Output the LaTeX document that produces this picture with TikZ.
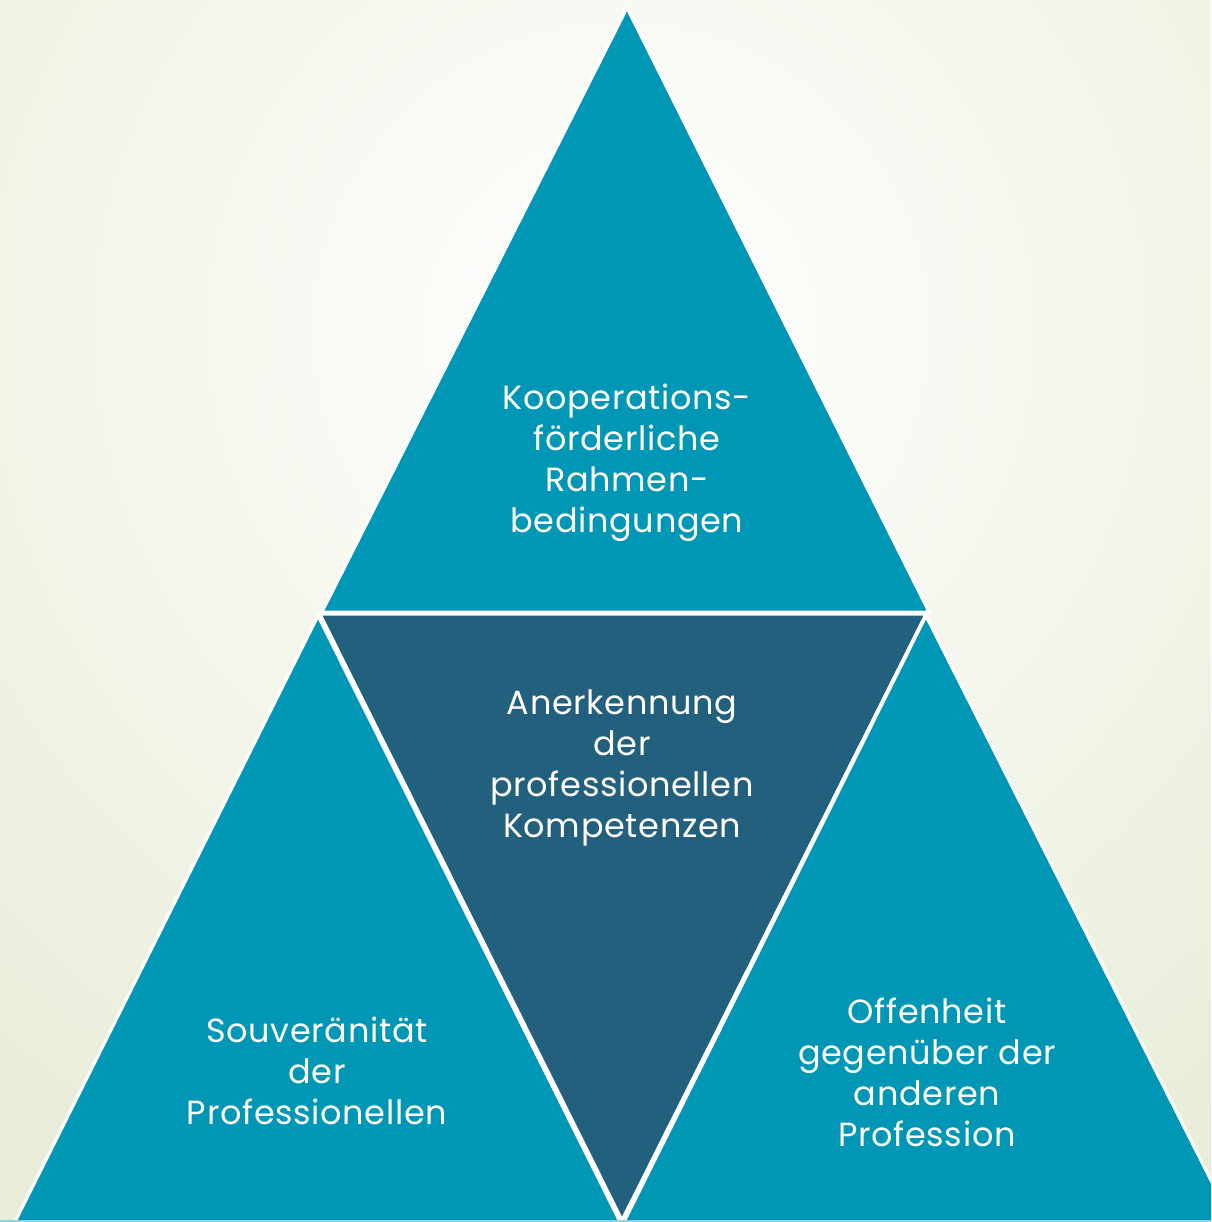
\documentclass[tikz,border=0pt]{standalone}
\usepackage{fontspec}
\setmainfont{Poppins}
\definecolor{teal1}{HTML}{0097B6}
\definecolor{dark1}{HTML}{23607D}
\definecolor{bgout}{HTML}{E8EDD8}
\definecolor{bgin}{HTML}{FFFFFF}
\definecolor{stripc}{HTML}{8FD3E3}
\begin{document}
\begin{tikzpicture}[x=1pt,y=-1pt,
  tri/.style={draw=white,line width=3pt,line join=miter},
  lbl/.style={text=white,align=center,font=\fontsize{33.5}{41}\selectfont\addfontfeatures{LetterSpace=2}}]
\useasboundingbox (0,0) rectangle (1211,1222);
\begin{scope}
\clip (0,0) rectangle (1211,1222);
\shade[inner color=bgin,outer color=bgout] (620-1000,330-1000) rectangle (620+1000,330+1000);
\end{scope}
\begin{scope}
\clip (0,0) rectangle (1211,1220);
\filldraw[tri,fill=teal1] (627,8) -- (929,612) -- (322,612) -- cycle;
\filldraw[tri,fill=dark1] (320,614) -- (926,614) -- (622,1220) -- cycle;
\filldraw[tri,fill=teal1] (318,616) -- (620,1222) -- (15,1222) -- cycle;
\filldraw[tri,fill=teal1] (926,616) -- (1232,1222) -- (624,1222) -- cycle;
\end{scope}
\fill[stripc] (0,1220) rectangle (1211,1222);
\node[lbl] (top) at (627,463) {Kooperations-\\förderliche\\Rahmen-\\bedingungen};
\node[lbl] (mid) at (622,768) {Anerkennung\\der\\professionellen\\Kompetenzen};
\node[lbl] (left) at (317,1071) {Souveränität\\der\\Professionellen};
\node[lbl] (right) at (927,1072) {Offenheit\\gegenüber der\\anderen\\Profession};
\end{tikzpicture}
\end{document}
